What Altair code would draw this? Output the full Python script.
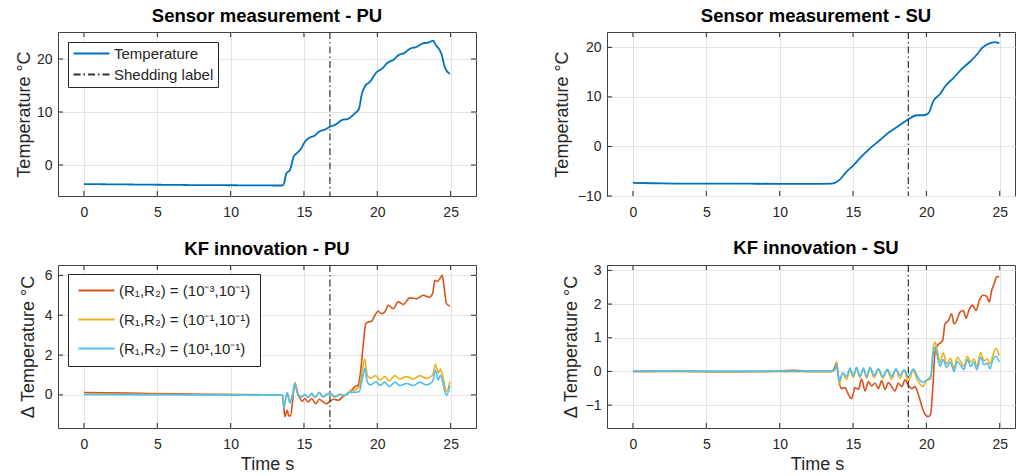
import altair as alt
import pandas as pd

# ------------------------------------------------------------------ data
# Sensor measurement - PU
pu_time = [0, 2, 4, 6, 8, 10, 12, 13.5, 13.62, 13.8, 14.04, 14.3, 14.5, 14.77, 15.07, 15.4,
           15.7, 16.04, 16.43, 16.77, 17.2, 17.6, 18.0, 18.47, 18.75, 18.93, 19.15, 19.5,
           19.95, 20.29, 20.75, 21.08, 21.43, 21.88, 22.2, 22.68, 23.13, 23.47, 23.8, 24.0,
           24.27, 24.38, 24.6, 24.95]
pu_temp = [-3.6, -3.65, -3.7, -3.75, -3.8, -3.82, -3.85, -3.87, -3.6, -1.6, -0.95, 1.57, 2.2,
           2.96, 4.4, 5.2, 5.5, 6.3, 6.7, 7.2, 7.7, 8.5, 8.7, 9.75, 10.6, 13.2, 14.8, 15.7,
           17.5, 18.1, 19.4, 19.8, 20.7, 21.2, 21.9, 22.3, 22.96, 23.1, 23.45, 22.6, 21.6,
           20.9, 18.5, 17.2]

# Sensor measurement - SU
su_time = [0, 2, 4, 6, 8, 10, 12, 13.54, 14.06, 14.56, 15.02, 15.59, 16.16, 16.84, 17.5,
           18.08, 18.77, 19.34, 19.8, 20.14, 20.48, 20.93, 21.27, 21.84, 22.4, 22.97, 23.43,
           23.77, 24.22, 24.68, 24.97]
su_temp = [-7.37, -7.45, -7.5, -7.5, -7.52, -7.55, -7.55, -7.5, -6.8, -5.1, -3.8, -2.0, -0.4,
           1.3, 2.96, 4.1, 5.5, 6.3, 6.3, 6.7, 9.2, 10.6, 12.1, 13.8, 15.6, 17.1, 18.5, 19.8,
           20.7, 21.05, 20.8]

shed_pu = [16.77]
shed_su = [18.77]

# KF innovation - PU
kf_pu_red_time = [0, 3, 6, 9, 12, 13.54, 13.63, 13.70, 13.86, 13.97, 14.09, 14.22, 14.38,
                  14.54, 14.68, 14.88, 15.06, 15.29, 15.52, 15.81, 16.04, 16.31, 16.54, 16.77,
                  17.04, 17.34, 17.63, 17.95, 18.25, 18.47, 18.70, 18.86, 19.04, 19.22, 19.38,
                  19.61, 19.84, 20.06, 20.29, 20.52, 20.75, 21.09, 21.43, 21.77, 22.22, 22.68,
                  23.13, 23.54, 23.77, 23.93, 24.11, 24.27, 24.43, 24.54, 24.72, 24.95]
kf_pu_red = [0.12, 0.09, 0.06, 0.03, 0.01, 0.0, -0.67, -1.09, -0.77, -1.05, -1.05, -0.35, 0.57,
             0.15, -0.1, -0.32, -0.18, -0.35, -0.18, -0.44, -0.22, -0.35, -0.44, -0.32, -0.22,
             -0.27, -0.1, 0.07, 0.24, 0.41, 0.49, 1.16, 2.5, 3.58, 3.66, 3.7, 4.0, 4.2, 4.08,
             4.17, 4.5, 4.33, 4.67, 4.54, 4.87, 4.83, 5.0, 4.9, 5.08, 5.75, 5.7, 5.84, 6.0, 5.5,
             4.58, 4.46]
kf_pu_lo_time = [0, 6, 12, 13.54, 13.63, 13.86, 14.04, 14.22, 14.38, 14.6, 14.84, 15.06, 15.29,
                 15.52, 15.75, 16.04, 16.31, 16.54, 16.77, 17.11, 17.45, 17.79, 18.13, 18.47,
                 18.77, 19.0, 19.15, 19.31, 19.54, 19.9, 20.18, 20.52, 20.81, 21.2, 21.54, 22.0,
                 22.45, 22.9, 23.36, 23.77, 23.97, 24.15, 24.31, 24.45, 24.61, 24.72, 24.95]
kf_pu_yellow = [0.04, 0.02, 0.0, 0, -0.58, 0.09, -0.35, 0, 0.62, 0.08, -0.1, 0, -0.13, 0.03,
                -0.13, 0.11, -0.1, 0, 0.08, -0.1, 0.03, -0.03, 0.17, 0.25, 0.41, 1.33, 1.8, 1.0,
                0.83, 0.97, 0.75, 0.92, 0.7, 0.97, 0.8, 0.92, 0.8, 0.97, 0.83, 1.0, 1.54, 1.09,
                1.3, 1.0, 0.41, 0.17, 0.67]
kf_pu_blue = [0.02, 0.01, 0.0, 0, -0.64, 0.13, -0.42, -0.03, 0.57, 0, -0.1, 0.03, -0.13, 0.08,
              -0.12, 0.13, -0.1, 0.03, 0.08, -0.1, 0.03, -0.03, 0.13, 0.13, 0.17, 0.92, 1.33,
              0.67, 0.5, 0.67, 0.47, 0.64, 0.41, 0.64, 0.47, 0.57, 0.47, 0.64, 0.5, 0.67, 1.25,
              0.75, 1.0, 0.67, 0.17, -0.03, 0.47]

# KF innovation - SU
kf_su_red_time = [0, 3, 6, 9, 11, 12, 13, 13.54, 13.77, 13.88, 14.06, 14.22, 14.45, 14.68,
                  14.91, 15.13, 15.36, 15.59, 15.82, 16.04, 16.27, 16.5, 16.73, 16.95, 17.18,
                  17.41, 17.63, 17.86, 18.09, 18.32, 18.54, 18.77, 19.0, 19.22, 19.45, 19.68,
                  19.9, 20.13, 20.29, 20.43, 20.59, 20.75, 20.93, 21.11, 21.27, 21.5, 21.72,
                  21.88, 22.06, 22.29, 22.52, 22.7, 22.93, 23.16, 23.38, 23.61, 23.84, 24.11,
                  24.29, 24.45, 24.63, 24.79, 24.97]
kf_su_red = [0.0, 0.01, -0.01, 0.0, 0.03, 0.0, 0.0, 0, 0.15, 0.27, -0.33, -0.51, -0.48, -0.68,
             -0.81, -0.48, -0.53, -0.23, -0.58, -0.31, -0.43, -0.35, -0.51, -0.28, -0.53, -0.33,
             -0.45, -0.58, -0.35, -0.45, -0.25, -0.41, -0.51, -0.45, -0.68, -1.02, -1.27, -1.34,
             -1.27, -0.53, 0.57, 0.77, 0.84, 0.92, 1.41, 1.51, 1.71, 1.41, 1.51, 1.76, 1.81,
             1.58, 1.86, 1.96, 1.81, 2.11, 2.26, 2.23, 2.06, 2.41, 2.61, 2.81, 2.81]
kf_su_lo_time = [0, 6, 12, 13.54, 13.77, 13.88, 14.06, 14.29, 14.56, 14.79, 15.02, 15.24, 15.47,
                 15.7, 15.93, 16.16, 16.43, 16.73, 17.02, 17.34, 17.63, 17.93, 18.2, 18.47,
                 18.77, 19.11, 19.38, 19.75, 20.06, 20.29, 20.47, 20.59, 20.75, 20.93, 21.15,
                 21.38, 21.65, 21.88, 22.11, 22.34, 22.56, 22.79, 23.02, 23.25, 23.43, 23.7,
                 23.93, 24.15, 24.33, 24.56, 24.74, 24.97]
kf_su_yellow = [0.0, 0.0, 0.0, 0, 0.07, 0.27, -0.38, -0.03, -0.23, 0.02, -0.18, 0.09, -0.18,
                0.07, -0.2, 0.09, -0.18, 0.05, -0.2, 0.02, -0.23, 0.05, -0.2, 0.02, -0.29, 0.02,
                -0.25, -0.45, -0.25, -0.23, 0.69, 0.87, 0.59, 0.27, 0.55, 0.22, 0.39, 0.09, 0.42,
                0.29, 0.15, 0.45, 0.27, 0.37, 0.15, 0.57, 0.32, 0.37, 0.22, 0.52, 0.69, 0.47]
kf_su_blue = [0.0, 0.0, 0.0, 0, 0.05, 0.2, -0.3, -0.05, -0.15, 0.1, -0.12, 0.12, -0.15, 0.1,
              -0.15, 0.12, -0.12, 0.08, -0.15, 0.06, -0.15, 0.08, -0.12, 0.05, -0.15, 0.07,
              -0.15, -0.32, -0.25, -0.15, 0.55, 0.72, 0.45, 0.15, 0.35, 0.12, 0.28, 0.0, 0.3,
              0.18, 0.05, 0.35, 0.15, 0.28, 0.05, 0.42, 0.2, 0.25, 0.08, 0.38, 0.45, 0.28]

series_names = ["(R\u2081,R\u2082) = (10\u207b\u00b3,10\u207b\u00b9)",
                "(R\u2081,R\u2082) = (10\u207b\u00b9,10\u207b\u00b9)",
                "(R\u2081,R\u2082) = (10\u00b9,10\u207b\u00b9)"]
series_colors = ["#D95319", "#EDB120", "#4DBEEE"]
temp_names = ["Temperature", "Shedding label"]

x_ticks = [0, 5, 10, 15, 20, 25]
y_ticks_pu = [0, 10, 20]
y_ticks_su = [-10, 0, 10, 20]
y_ticks_kf_pu = [0, 2, 4, 6]
y_ticks_kf_su = [-1, 0, 1, 2, 3]

# ------------------------------------------------------------------ style
FONT = "Liberation Sans"
AX = "#262626"
DASH = [7, 3, 1.5, 3]
W_L, W_R = 418, 408
H_T, H_B = 164, 163
XDOM_L = [-1.77, 26.73]
XDOM_R = [-1.77, 26.04]


def enc_x(dom, title, title_x=None):
    ax = dict(values=x_ticks, title=title, grid=True)
    if title_x is not None:
        ax["titleX"] = title_x
    return alt.X("t:Q", scale=alt.Scale(domain=dom, nice=False, zero=False),
                 axis=alt.Axis(**ax))


def enc_y(dom, ticks, title, title_x):
    return alt.Y("v:Q", scale=alt.Scale(domain=dom, nice=False, zero=False),
                 axis=alt.Axis(values=ticks, title=title, grid=True, titleX=title_x,
                               titleBaseline="alphabetic"))


def tick_layers(X, Y, xt_vals, yt_vals, w, h, right=True):
    xt = pd.DataFrame({"t": xt_vals})
    yt = pd.DataFrame({"v": yt_vals})
    rule = dict(color=AX, strokeWidth=1)
    layers = [
        alt.Chart(xt).mark_rule(**rule).encode(x=X, y=alt.value(h), y2=alt.value(h - 5)),
        alt.Chart(xt).mark_rule(**rule).encode(x=X, y=alt.value(0), y2=alt.value(5)),
        alt.Chart(yt).mark_rule(**rule).encode(y=Y, x=alt.value(0), x2=alt.value(5)),
    ]
    if right:
        layers.append(alt.Chart(yt).mark_rule(**rule).encode(y=Y, x=alt.value(w), x2=alt.value(w - 5)))
    return layers


def ptitle(text, dx=0):
    return alt.TitleParams(text, font=FONT, fontSize=18.5, fontWeight="bold", color="black",
                           offset=6, frame="group", anchor="middle", dx=dx)


# line-shaped legend symbol: 36 px long, drawn from the symbol column start
legend_common = dict(title=None, orient="none", symbolType="M-1,0H5", symbolSize=144,
                     symbolStrokeWidth=2, labelFont=FONT, labelFontSize=15, labelColor=AX,
                     strokeColor=AX, fillColor="white", labelOffset=27, labelLimit=400,
                     cornerRadius=0)

# ---------------- top left
df_pu = pd.DataFrame({"t": pu_time, "v": pu_temp, "s": temp_names[0]})
df_shed_pu = pd.DataFrame({"t": shed_pu, "s": temp_names[1]})
YD = [-5.85, 25.1]
X = enc_x(XDOM_L, None)
Y = enc_y(YD, y_ticks_pu, "Temperature °C", -29)
leg_tl = dict(legendX=10, legendY=10, padding=4, rowPadding=5, **legend_common)
col_tl = alt.Color("s:N", scale=alt.Scale(domain=temp_names, range=["#0072BD", "#333333"]),
                   legend=alt.Legend(**leg_tl))
dash_tl = alt.StrokeDash("s:N", scale=alt.Scale(domain=temp_names, range=[[1, 0], DASH]),
                         legend=alt.Legend(**leg_tl))
tl = alt.layer(
    alt.Chart(df_pu).mark_line(strokeWidth=1.8, interpolate="monotone").encode(
        x=X, y=Y, color=col_tl, strokeDash=dash_tl),
    alt.Chart(df_shed_pu).mark_rule(strokeWidth=1.2).encode(x=X, color=col_tl, strokeDash=dash_tl),
    *tick_layers(X, Y, x_ticks, y_ticks_pu, W_L, H_T),
).properties(width=W_L, height=H_T, title=ptitle("Sensor measurement - PU"))

# ---------------- top right
df_su = pd.DataFrame({"t": su_time, "v": su_temp})
df_shed_su = pd.DataFrame({"t": shed_su})
YD = [-10, 23.1]
X = enc_x(XDOM_R, None)
Y = enc_y(YD, y_ticks_su, "Temperature °C", -40)
tr = alt.layer(
    alt.Chart(df_su).mark_line(strokeWidth=1.8, color="#0072BD", interpolate="monotone").encode(x=X, y=Y),
    alt.Chart(df_shed_su).mark_rule(strokeWidth=1.2, color="#333333", strokeDash=DASH).encode(x=X),
    *tick_layers(X, Y, x_ticks, y_ticks_su, W_R, H_T, right=False),
).properties(width=W_R, height=H_T, title=ptitle("Sensor measurement - SU", dx=5))


def kf_frame(rt, r, lt, yv, bv):
    return pd.concat([
        pd.DataFrame({"t": rt, "v": r, "s": series_names[0]}),
        pd.DataFrame({"t": lt, "v": yv, "s": series_names[1]}),
        pd.DataFrame({"t": lt, "v": bv, "s": series_names[2]}),
    ], ignore_index=True)


# ---------------- bottom left
df_kf_pu = kf_frame(kf_pu_red_time, kf_pu_red, kf_pu_lo_time, kf_pu_yellow, kf_pu_blue)
YD = [-1.66, 6.52]
X = enc_x(XDOM_L, "Time s")
Y = enc_y(YD, y_ticks_kf_pu, "Δ Temperature °C", -24.5)
bl = alt.layer(
    alt.Chart(df_kf_pu).mark_line(strokeWidth=1.6, interpolate="monotone").encode(
        x=X, y=Y,
        color=alt.Color("s:N", scale=alt.Scale(domain=series_names, range=series_colors),
                        legend=alt.Legend(legendX=10, legendY=9, padding=9, rowPadding=13,
                                          **legend_common))),
    alt.Chart(pd.DataFrame({"t": shed_pu})).mark_rule(strokeWidth=1.2, color="#333333",
                                                       strokeDash=DASH).encode(x=X),
    *tick_layers(X, Y, x_ticks, y_ticks_kf_pu, W_L, H_B),
).properties(width=W_L, height=H_B, title=ptitle("KF innovation - PU"))

# ---------------- bottom right
df_kf_su = kf_frame(kf_su_red_time, kf_su_red, kf_su_lo_time, kf_su_yellow, kf_su_blue)
YD = [-1.68, 3.16]
X = enc_x(XDOM_R, "Time s", 210)
Y = enc_y(YD, y_ticks_kf_su, "Δ Temperature °C", -31)
br = alt.layer(
    alt.Chart(df_kf_su).mark_line(strokeWidth=1.6, interpolate="monotone").encode(
        x=X, y=Y,
        color=alt.Color("s:N", scale=alt.Scale(domain=series_names, range=series_colors),
                        legend=None)),
    alt.Chart(pd.DataFrame({"t": shed_su})).mark_rule(strokeWidth=1.2, color="#333333",
                                                       strokeDash=DASH).encode(x=X),
    *tick_layers(X, Y, x_ticks, y_ticks_kf_su, W_R, H_B, right=False),
).properties(width=W_R, height=H_B, title=ptitle("KF innovation - SU", dx=5))

chart = alt.concat(tl, tr, bl, br, columns=2, spacing={"row": 69, "column": 131},
                   bounds="flush").resolve_scale(color="independent", strokeDash="independent") \
    .properties(padding={"left": 14, "top": 6, "right": 0, "bottom": 0}) \
    .configure(background="white") \
    .configure_view(stroke="#404040", strokeWidth=1) \
    .configure_axis(labelFont=FONT, labelFontSize=14, labelColor=AX, titleFont=FONT,
                    titleFontSize=18, titleFontWeight="normal", titleColor=AX,
                    gridColor="#e3e3e3", gridWidth=1, domain=False, ticks=False) \
    .configure_axisX(labelPadding=9, titlePadding=4) \
    .configure_axisY(labelPadding=6)

chart.save("out.html", embed_options={"renderer": "svg", "actions": False})
